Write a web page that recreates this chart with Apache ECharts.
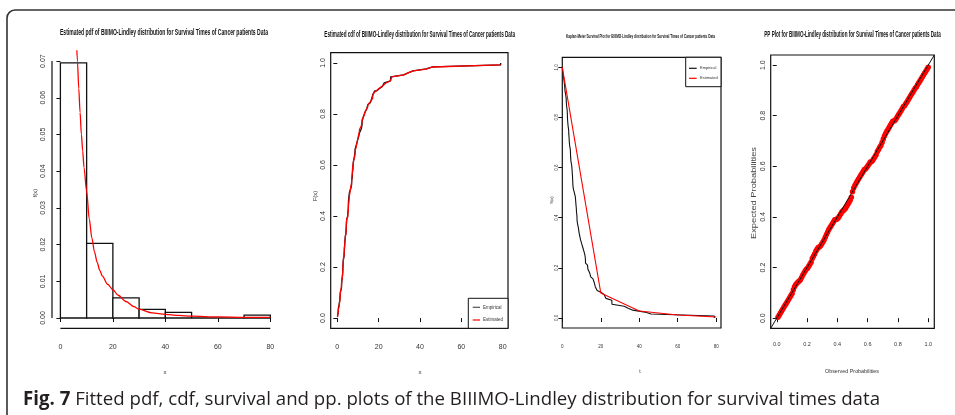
<!DOCTYPE html>
<html><head><meta charset="utf-8">
<script src="https://cdn.jsdelivr.net/npm/echarts@6/dist/echarts.min.js"></script>
<style>html,body{margin:0;padding:0;background:#fff}#c{width:955px;height:415px}</style>
</head><body><div id="c"></div>
<script>
// ---------------- data ----------------
const survivalTimes = [0.08,0.20,0.40,0.50,0.51,0.81,0.90,1.05,1.19,1.26,1.35,1.40,1.46,1.76,2.02,2.02,2.07,2.09,2.23,2.26,
2.46,2.54,2.62,2.64,2.69,2.69,2.75,2.83,2.87,3.02,3.25,3.31,3.36,3.36,3.48,3.52,3.57,3.64,3.70,3.82,3.88,4.18,4.23,4.26,
4.33,4.34,4.40,4.50,4.51,4.87,4.98,5.06,5.09,5.17,5.32,5.32,5.34,5.41,5.41,5.49,5.62,5.71,5.85,6.25,6.54,6.76,6.93,6.94,
6.97,7.09,7.26,7.28,7.32,7.39,7.59,7.62,7.63,7.66,7.87,7.93,8.26,8.37,8.53,8.65,8.66,9.02,9.22,9.47,9.74,10.06,10.34,
10.66,10.75,11.25,11.64,11.79,11.98,12.02,12.03,12.07,12.63,13.11,13.29,13.80,14.24,14.76,14.77,14.83,15.96,16.62,17.12,
17.14,17.36,18.10,19.13,20.28,21.73,22.69,23.63,25.74,25.82,26.31,32.15,34.26,36.66,43.01,46.12,79.05];
const histBreaks = [0,10,20,30,40,50,60,70,80];
const histDensity = [0.06953,0.02031,0.00547,0.00234,0.00156,0,0,0.00078];
const pdfX = [6.1,6.5,7,7.5,8,8.5,9,10,11,12,13,14,15,16,18,20,22,25,28,30,35,40,45,50,60,70,80];
const pdfY = [0.0760,0.0700,0.0625,0.0560,0.0500,0.0455,0.0410,0.0345,0.0270,0.0218,0.0180,0.0152,0.0130,0.0114,0.0092,
0.0077,0.0062,0.0045,0.0031,0.0024,0.0014,0.0010,0.0007,0.0005,0.0003,0.0002,0.00015];
// estimated cdf at each sorted survival time (= expected probabilities of the PP plot)
const estCdf = [.004,.012,.019,.027,.035,.043,.051,.058,.066,.074,.082,.090,.098,.112,.124,.132,.138,.143,.147,.152,
.161,.171,.179,.186,.193,.197,.205,.213,.221,.236,.245,.254,.264,.272,.279,.281,.286,.293,.301,.309,.320,.331,.341,.350,
.358,.365,.373,.381,.389,.390,.392,.397,.404,.412,.420,.425,.428,.433,.441,.449,.457,.466,.478,.500,.514,.524,.533,.541,
.549,.557,.565,.572,.580,.588,.590,.595,.602,.609,.617,.618,.623,.631,.638,.646,.659,.667,.675,.682,.694,.708,.720,.730,
.739,.746,.754,.762,.770,.778,.779,.782,.789,.797,.805,.812,.820,.828,.836,.839,.847,.854,.862,.870,.878,.886,.893,.901,
.909,.914,.922,.930,.937,.945,.953,.961,.969,.976,.984,.992];
const survX = [0,20,40,60,80];
const survEst = [1,0.100,0.028,0.012,0.004];
const timeTicks = [0,20,40,60,80];
const pdfTicks = [0,0.01,0.02,0.03,0.04,0.05,0.06,0.07];
const probTicks = [0,0.2,0.4,0.6,0.8,1.0];

// ---------------- build ----------------
const n = survivalTimes.length;
const histData = histDensity.map((d,i)=>[histBreaks[i],histBreaks[i+1],d]);
const pdfData = pdfX.map((x,i)=>[x,pdfY[i]]);
const ecdfData = survivalTimes.map((t,i)=>[t,(i+1)/n]);
const estCdfData = survivalTimes.map((t,i)=>[t,estCdf[i]]);
const kmData = [[0,1]].concat(survivalTimes.map((t,i)=>[t,1-(i+1)/n]));
const survEstData = survX.map((x,i)=>[x,survEst[i]]);
const ppData = estCdf.map((v,i)=>[(i+1)/n,v]);

const LF = '"Liberation Sans Narrow","Liberation Sans",Arial,sans-serif';
function xAx(g,min,max,ticks,fmt,fs,margin){
  return {type:'value',gridIndex:g,min,max,splitLine:{show:false},axisLine:{show:false},
    axisTick:{show:true,length:4,customValues:ticks,lineStyle:{color:'#111',width:1}},
    axisLabel:{customValues:ticks,formatter:fmt,fontSize:fs,fontFamily:LF,color:'#333',margin}};
}
function yAx(g,min,max,ticks,fmt,fs,margin){
  return {type:'value',gridIndex:g,min,max,splitLine:{show:false},axisLine:{show:false},
    axisTick:{show:true,length:4,customValues:ticks,lineStyle:{color:'#111',width:1}},
    axisLabel:{customValues:ticks,formatter:fmt,fontSize:fs,fontFamily:LF,color:'#333',margin,rotate:90}};
}
const f0 = v=>String(v), f1 = v=>v.toFixed(1), f2 = v=>v.toFixed(2);
const box = {show:true,borderColor:'#111',borderWidth:1.2,backgroundColor:'transparent'};
const PP_MIN=-0.04, PP_MAX=1.04;

const chart = echarts.init(document.getElementById('c'));
chart.setOption({
  animation:false,
  backgroundColor:'#fff',
  grid:[
    {left:52,top:50.8,width:226.7,height:277.5},
    Object.assign({left:330.7,top:52.7,width:177.3,height:275.6},box),
    Object.assign({left:562.3,top:57.3,width:158.7,height:270.7},box),
    Object.assign({left:770.7,top:55,width:163.6,height:273.3},box)
  ],
  xAxis:[
    xAx(0,-3.2,83.2,timeTicks,f0,7,15),
    xAx(1,-3.2,82.6,timeTicks,f0,7,15),
    xAx(2,0,82.5,timeTicks,f0,4.5,16),
    xAx(3,PP_MIN,PP_MAX,probTicks,f1,5.5,13)
  ],
  yAxis:[
    yAx(0,-0.0028,0.0728,pdfTicks,f2,7,5),
    yAx(1,-0.04,1.04,probTicks,f1,7,4),
    yAx(2,-0.04,1.04,probTicks,f1,4.5,3),
    yAx(3,PP_MIN,PP_MAX,probTicks,f1,7,4)
  ],
  series:[
    {type:'custom',xAxisIndex:0,yAxisIndex:0,data:histData,encode:{x:[0,1],y:2},
      renderItem:(p,api)=>{
        const a=api.coord([api.value(0),api.value(2)]), b=api.coord([api.value(1),0]);
        return {type:'rect',shape:{x:a[0],y:a[1],width:b[0]-a[0],height:b[1]-a[1]},
          style:{fill:'#fff',stroke:'#111',lineWidth:1.3}};
      }},
    {type:'line',xAxisIndex:0,yAxisIndex:0,data:pdfData,showSymbol:false,smooth:0.3,smoothMonotone:'x',
      lineStyle:{color:'#ff0000',width:1.3},z:3},
    {type:'line',xAxisIndex:1,yAxisIndex:1,data:ecdfData,step:'end',showSymbol:false,
      lineStyle:{color:'#111',width:1.3}},
    {type:'line',xAxisIndex:1,yAxisIndex:1,data:estCdfData,showSymbol:false,
      lineStyle:{color:'#ff0000',width:1.3},z:3},
    {type:'line',xAxisIndex:2,yAxisIndex:2,data:kmData,step:'end',showSymbol:false,
      lineStyle:{color:'#111',width:1.1}},
    {type:'line',xAxisIndex:2,yAxisIndex:2,data:survEstData,showSymbol:false,
      lineStyle:{color:'#ff0000',width:1.1},z:3},
    {type:'scatter',xAxisIndex:3,yAxisIndex:3,data:ppData,symbolSize:5.5,
      itemStyle:{color:'#ff0000',opacity:1}},
    {type:'line',xAxisIndex:3,yAxisIndex:3,data:[[PP_MIN,PP_MIN],[PP_MAX,PP_MAX]],showSymbol:false,
      lineStyle:{color:'#111',width:1},z:4}
  ]
});

// ---------------- decorations ----------------
const mctx = document.createElement('canvas').getContext('2d');
function mw(font,s){mctx.font=font;return mctx.measureText(s).width;}
function T(s,x,y,font,o){
  o=o||{};
  const sx = o.width ? o.width/mw(font,s) : (o.sx||1);
  return {type:'text',x,y,rotation:o.rot||0,scaleX:sx,silent:true,z:20,
    style:{text:s,font,fill:o.fill||'#111',textAlign:o.align||'center',textVerticalAlign:o.va||'middle',
      align:o.align||'center',verticalAlign:o.va||'middle'}};
}
function L(x1,y1,x2,y2,c,w){return {type:'line',silent:true,z:20,shape:{x1,y1,x2,y2},style:{stroke:c||'#111',lineWidth:w||1.2}};}
function R(x,y,w,h){return {type:'rect',silent:true,z:19,shape:{x,y,width:w,height:h},style:{fill:'#fff',stroke:'#111',lineWidth:1}};}

const g = [];
g.push({type:'rect',silent:true,z:0,shape:{x:7,y:10,width:1000,height:500,r:8},style:{fill:'none',stroke:'#333',lineWidth:1.6}});
// panel 1 axis lines (R style, only across tick range)
const ya = chart.convertToPixel({gridIndex:0},[-3.2,0]), yb = chart.convertToPixel({gridIndex:0},[-3.2,0.07]);
g.push(L(ya[0],ya[1],yb[0],yb[1],'#111',1.2));
const xa = chart.convertToPixel({gridIndex:0},[0,-0.0028]), xb = chart.convertToPixel({gridIndex:0},[80,-0.0028]);
g.push(L(xa[0],xa[1],xb[0],xb[1],'#111',1.2));

const TF = 'bold 9px "Liberation Sans",Arial,sans-serif';
g.push(T('Estimated pdf of BIIIMO-Lindley distribution for Survival Times of Cancer patients Data',164,32.7,TF,{width:208}));
g.push(T('Estimated cdf of BIIIMO-Lindley distribution for Survival Times of Cancer patients Data',419.7,35,TF,{width:190.7}));
g.push(T('Kaplan-Meier Survival Plot for BIIIMO-Lindley distribution for Survival Times of Cancer patients Data',640.5,36,'bold 6px "Liberation Sans",Arial,sans-serif',{width:149}));
g.push(T('PP Plot for BIIIMO-Lindley distribution for Survival Times of Cancer patients Data',852.5,35,TF,{width:176.4}));

const AF = '6px "Liberation Sans",Arial,sans-serif';
g.push(T('f(x)',35.7,193,AF,{rot:Math.PI/2,fill:'#333'}));
g.push(T('F(x)',315,196,AF,{rot:Math.PI/2,fill:'#333'}));
g.push(T('S(x)',552.3,200,'4px "Liberation Sans",Arial,sans-serif',{rot:Math.PI/2,fill:'#333'}));
g.push(T('Expected Probabilities',754,193,'7px "Liberation Sans",Arial,sans-serif',{rot:Math.PI/2,width:92,fill:'#444'}));
g.push(T('x',165,372,AF,{fill:'#333'}));
g.push(T('x',420,372,AF,{fill:'#333'}));
g.push(T('t',640,372,'5px "Liberation Sans",Arial,sans-serif',{fill:'#333'}));
g.push(T('Observed Probabilities',852,372,'5px "Liberation Sans",Arial,sans-serif',{width:54,fill:'#333'}));

// legends
const LGF = '4.5px "Liberation Sans",Arial,sans-serif';
g.push(R(468.3,298.3,39.7,30));
g.push(L(472.7,307.3,480,307.3,'#555',1.2)); g.push(T('Empirical',483,307.3,LGF,{align:'left',fill:'#333'}));
g.push(L(472.7,320,480,320,'#ff0000',1.2)); g.push(T('Estimated',483,320,LGF,{align:'left',fill:'#333'}));
g.push(R(685.7,57.3,35.3,29.4));
g.push(L(689,68.3,696.7,68.3,'#111',1.2)); g.push(T('Empirical',700,68.3,'4px "Liberation Sans",Arial,sans-serif',{align:'left',fill:'#333'}));
g.push(L(689,78.3,696.7,78.3,'#ff0000',1.2)); g.push(T('Estimated',700,78.3,'4px "Liberation Sans",Arial,sans-serif',{align:'left',fill:'#333'}));

// caption
const CB = 'bold 19px "Open Sans",sans-serif', CR = '19px "Open Sans",sans-serif';
const capB = 'Fig. 7', capR = ' Fitted pdf, cdf, survival and pp. plots of the BIIIMO-Lindley distribution for survival times data';
const wb = mw(CB,capB), wr = mw(CR,capR), cs = (880-23)/(wb+wr);
g.push(T(capB,23,400,CB,{align:'left',sx:cs,fill:'#231f20'}));
g.push(T(capR,23+wb*cs,400,CR,{align:'left',sx:cs,fill:'#231f20'}));

chart.setOption({graphic:{elements:g}});
</script></body></html>
